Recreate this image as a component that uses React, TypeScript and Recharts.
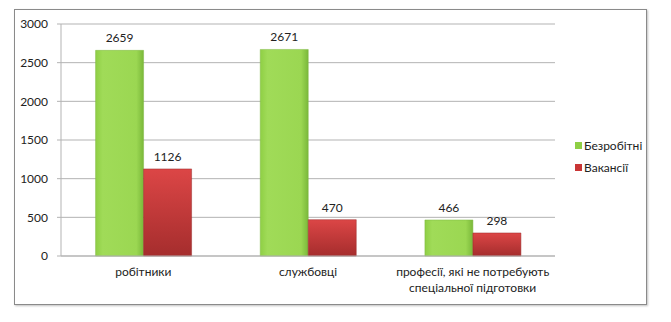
import { BarChart, Bar, XAxis, YAxis, CartesianGrid, Legend, LabelList } from 'recharts';

const categories = ['робітники', 'службовці', 'професії, які не потребують\nспеціальної підготовки'];
const unemployed = [2659, 2671, 466];
const vacancies = [1126, 470, 298];
const yTicks = [0, 500, 1000, 1500, 2000, 2500, 3000];

const data = categories.map((name, i) => ({
    name,
    unemployed: unemployed[i],
    vacancies: vacancies[i],
}));

const FONT = 'Lato, "Open Sans", sans-serif';

function CategoryTick(props: any) {
    const { x, y, payload } = props;
    const lines = String(payload.value).split('\n');
    return (
        <text x={x} y={y} textAnchor="middle" fill="#222" fontSize={12} fontFamily={FONT}>
            {lines.map((line, i) => (
                <tspan key={i} x={x} dy={i === 0 ? 12 : 16}>
                    {line}
                </tspan>
            ))}
        </text>
    );
}

function LegendContent(props: any) {
    const items = props.payload || [];
    return (
        <div style={{ fontFamily: FONT, fontSize: 12, color: '#222' }}>
            {items.map((it: any, i: number) => (
                <div key={i} style={{ display: 'flex', alignItems: 'center', height: 22 }}>
                    <span
                        style={{
                            width: 7,
                            height: 7,
                            background: i === 0 ? '#8fcf45' : '#c93535',
                            marginRight: 2,
                            display: 'inline-block',
                        }}
                    />
                    {it.value}
                </div>
            ))}
        </div>
    );
}

export default function App() {
    return (
        <div style={{ position: 'absolute', left: 0, top: 0, width: 671, height: 322, background: '#fff' }}>
            <div
                style={{
                    position: 'absolute',
                    left: 14,
                    top: 9,
                    width: 631,
                    height: 294,
                    border: '1px solid #8a8a8a',
                    boxShadow: '1px 1px 2px rgba(0,0,0,0.25)',
                }}
            />
            <div style={{ position: 'absolute', left: 0, top: 0 }}>
                <BarChart
                    width={671}
                    height={322}
                    data={data}
                    margin={{ top: 24, right: 26, left: 21, bottom: 35 }}
                    barCategoryGap="21%"
                    barGap={0}
                >
                    <defs>
                        <linearGradient id="gGreen" x1="0" y1="0" x2="1" y2="0">
                            <stop offset="0%" stopColor="#8fcf45" />
                            <stop offset="15%" stopColor="#a0db58" />
                            <stop offset="85%" stopColor="#9bd752" />
                            <stop offset="100%" stopColor="#7ab83a" />
                        </linearGradient>
                        <linearGradient id="gRed" x1="0" y1="0" x2="0" y2="1">
                            <stop offset="0%" stopColor="#dc4646" />
                            <stop offset="100%" stopColor="#a52d2d" />
                        </linearGradient>
                    </defs>
                    <CartesianGrid vertical={false} stroke="#b3b3b3" />
                    <XAxis
                        dataKey="name"
                        tick={<CategoryTick />}
                        tickLine={false}
                        axisLine={{ stroke: '#b3b3b3' }}
                        interval={0}
                    />
                    <XAxis
                        xAxisId="edges"
                        type="number"
                        domain={[0, 3]}
                        ticks={[0, 1, 2, 3]}
                        tick={false}
                        tickSize={5}
                        tickLine={{ stroke: '#b3b3b3' }}
                        axisLine={false}
                        height={1}
                    />
                    <YAxis
                        width={40}
                        domain={[0, 3000]}
                        ticks={yTicks}
                        tickSize={4}
                        tickMargin={9}
                        tick={{ fill: '#222', fontSize: 12, fontFamily: FONT }}
                        tickLine={{ stroke: '#b3b3b3' }}
                        axisLine={{ stroke: '#b3b3b3' }}
                    />
                    <Legend
                        layout="vertical"
                        align="right"
                        verticalAlign="top"
                        content={<LegendContent />}
                        wrapperStyle={{ left: 575, top: 134, width: 90 }}
                    />
                    <Bar dataKey="unemployed" name="Безробітні" fill="url(#gGreen)" stroke="#7fb842" strokeWidth={0.5} isAnimationActive={false}>
                        <LabelList dataKey="unemployed" position="top" offset={8} fill="#222" fontSize={12} fontFamily={FONT} />
                    </Bar>
                    <Bar dataKey="vacancies" name="Вакансії" fill="url(#gRed)" stroke="#9a2a2a" strokeWidth={0.5} isAnimationActive={false}>
                        <LabelList dataKey="vacancies" position="top" offset={8} fill="#222" fontSize={12} fontFamily={FONT} />
                    </Bar>
                </BarChart>
            </div>
        </div>
    );
}
